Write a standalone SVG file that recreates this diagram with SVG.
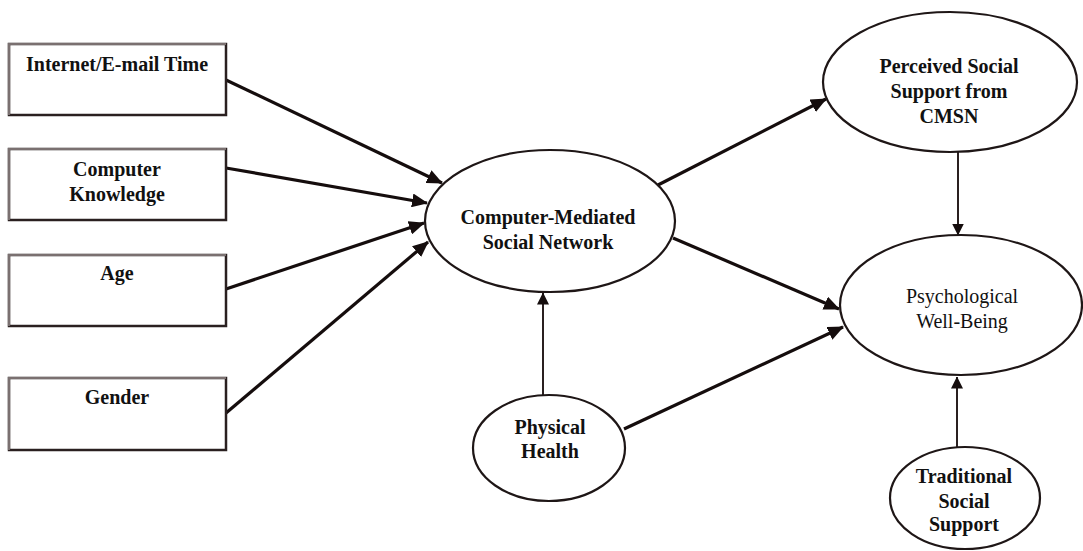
<svg xmlns="http://www.w3.org/2000/svg" width="1083" height="551" viewBox="0 0 1083 551">
<style>
.box{fill:#fff;stroke:#2a2020;stroke-width:2.5}
.edge{fill:none;stroke:#7a7070;stroke-width:2.2}
.ell{fill:#fff;stroke:#1e1616;stroke-width:2.2}
.t{font-family:"Liberation Serif","Times New Roman",serif;font-size:20px;font-weight:bold;fill:#111;text-anchor:middle}
.r{font-weight:normal}
.thick{fill:none;stroke:#150d0d;stroke-width:3.2}
.thin{fill:none;stroke:#2a2020;stroke-width:2}
</style>
<defs>
<marker id="big" markerUnits="userSpaceOnUse" markerWidth="16" markerHeight="14" viewBox="0 0 16 14" refX="15" refY="7" orient="auto">
<path d="M0,0 L16,7 L0,14 Z" fill="#150d0d"/>
</marker>
<marker id="small" markerUnits="userSpaceOnUse" markerWidth="12" markerHeight="12" viewBox="0 0 12 12" refX="11.5" refY="6" orient="auto">
<path d="M0,0 L12,6 L0,12 Z" fill="#150d0d"/>
</marker>
</defs>
<rect width="1083" height="551" fill="#fff"/>
<g id="connectors">
<path class="thick" d="M226,80 L442,183" marker-end="url(#big)"/>
<path class="thick" d="M226,168 L427,203" marker-end="url(#big)"/>
<path class="thick" d="M226,289 L424,223" marker-end="url(#big)"/>
<path class="thick" d="M226,413 L428,242" marker-end="url(#big)"/>
<path class="thick" d="M658,185 L826,99" marker-end="url(#big)"/>
<path class="thick" d="M673,238 L839,309" marker-end="url(#big)"/>
<path class="thick" d="M624,429 L843,327" marker-end="url(#big)"/>
<path class="thin" d="M543,395 L543,293" marker-end="url(#small)"/>
<path class="thin" d="M958,152 L958,235" marker-end="url(#small)"/>
<path class="thin" d="M957,447 L957,377" marker-end="url(#small)"/>
</g>
<g id="internet">
<rect class="box" x="9" y="44" width="217" height="71"/>
<path class="edge" d="M9,115 L9,44 L226,44"/>
<text class="t" x="117" y="71">Internet/E-mail Time</text>
</g>
<g id="knowledge">
<rect class="box" x="9" y="149" width="217" height="71"/>
<path class="edge" d="M9,220 L9,149 L226,149"/>
<text class="t" x="117" y="176">Computer</text>
<text class="t" x="117" y="201">Knowledge</text>
</g>
<g id="age">
<rect class="box" x="9" y="255" width="217" height="71"/>
<path class="edge" d="M9,326 L9,255 L226,255"/>
<text class="t" x="117" y="280">Age</text>
</g>
<g id="gender">
<rect class="box" x="9" y="378" width="217" height="72"/>
<path class="edge" d="M9,450 L9,378 L226,378"/>
<text class="t" x="117" y="404">Gender</text>
</g>
<g id="cmsn">
<ellipse class="ell" cx="550" cy="221" rx="125" ry="71"/>
<text class="t" x="548" y="224">Computer-Mediated</text>
<text class="t" x="548" y="249">Social Network</text>
</g>
<g id="perceived">
<ellipse class="ell" cx="950" cy="82" rx="127" ry="70"/>
<text class="t" x="949" y="73">Perceived Social</text>
<text class="t" x="949" y="98">Support from</text>
<text class="t" x="949" y="123">CMSN</text>
</g>
<g id="psych">
<ellipse class="ell" cx="961" cy="305" rx="121" ry="70"/>
<text class="t r" x="962" y="303">Psychological</text>
<text class="t r" x="962" y="328">Well-Being</text>
</g>
<g id="physical">
<ellipse class="ell" cx="549" cy="448" rx="76" ry="53"/>
<text class="t" x="550" y="434">Physical</text>
<text class="t" x="550" y="458">Health</text>
</g>
<g id="traditional">
<ellipse class="ell" cx="965" cy="498" rx="75" ry="51"/>
<text class="t" x="964" y="483">Traditional</text>
<text class="t" x="964" y="508">Social</text>
<text class="t" x="964" y="531">Support</text>
</g>
</svg>
